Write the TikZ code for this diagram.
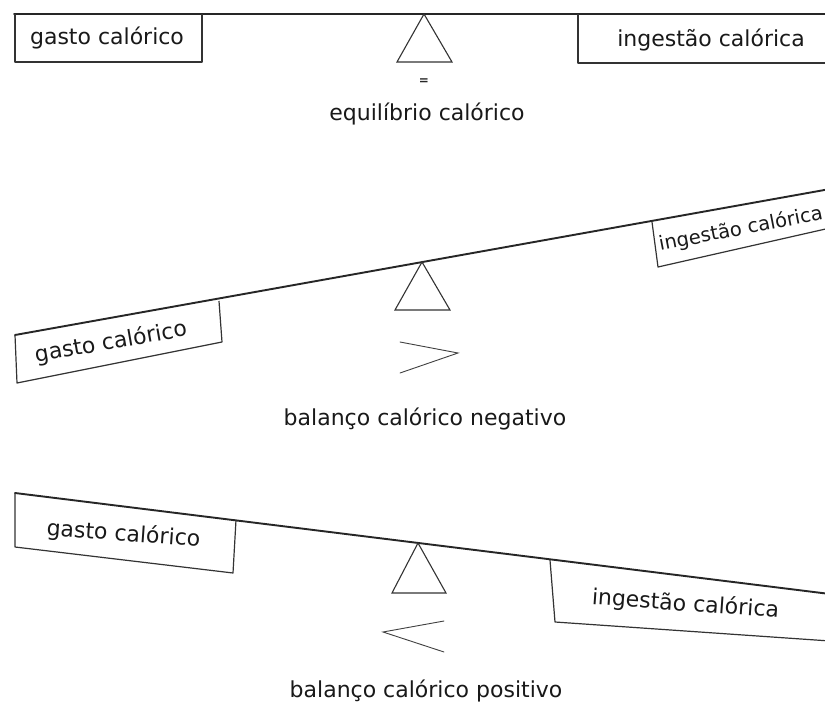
\documentclass[tikz,border=0pt]{standalone}
\usepackage{fontspec}
\setmainfont{DejaVu Sans}
\begin{document}
\begin{tikzpicture}[x=1pt,y=-1pt,
  beam/.style={line width=1.9pt, black!85, line cap=round},
  boxline/.style={line width=1.2pt, black!80, line join=round},
  fulcrum/.style={line width=1.1pt, black!80, line join=miter},
  sym/.style={line width=0.9pt, black!75, line cap=round},
  lbl/.style={font=\fontsize{22}{26}\selectfont, text=black!90, inner sep=0pt, anchor=base},
]
\fill[white] (0,0) rectangle (825,704);
\useasboundingbox (0,0) rectangle (825,704);
\clip (0,0) rectangle (825,704);

% ---------- panel 1: equilibrium ----------
\draw[beam] (14,14) -- (830,14);
\draw[boxline] (15,14) -- (15,62) -- (202,62) -- (202,14);
\node[lbl] (g1) at (107,45) {gasto calórico};
\draw[fulcrum] (424,14) -- (397,62) -- (452,62) -- cycle;
\node[font=\fontsize{12}{14}\selectfont\bfseries, text=black!85, inner sep=0pt] (eq) at (424,82) {=};
\node[lbl] (e1) at (427,120) {equilíbrio calórico};
\draw[boxline] (578,14) -- (578,63) -- (830,63);
\node[lbl] (i1) at (711,46) {ingestão calórica};

% ---------- panel 2: negative balance ----------
\draw[beam] (15,335) -- (830,189);
\draw[boxline] (15,335) -- (17,383) -- (222,342) -- (219,301);
\node[lbl, rotate=10] (g2) at (112,349) {gasto calórico};
\draw[fulcrum] (422,262) -- (395,310) -- (450,310) -- cycle;
\draw[sym] (400,342) -- (458,353) -- (400,373);
\node[lbl] (n2) at (425,425) {balanço calórico negativo};
\draw[boxline] (652,222) -- (658,267) -- (830,228);
\node[lbl, rotate=11, font=\fontsize{19.5}{23}\selectfont] (i2) at (742,235) {ingestão calórica};

% ---------- panel 3: positive balance ----------
\draw[beam] (15,493) -- (830,594);
\draw[boxline] (15,493) -- (15,547) -- (233,573) -- (236,520);
\node[lbl, rotate=-4] (g3) at (123,541) {gasto calórico};
\draw[fulcrum] (418,543) -- (392,593) -- (446,593) -- cycle;
\draw[sym] (444,621) -- (383,632) -- (444,652);
\node[lbl] (p3) at (426,697) {balanço calórico positivo};
\draw[boxline] (550,560) -- (555,622) -- (830,641);
\node[lbl, rotate=-4] (i3) at (685,611) {ingestão calórica};
\end{tikzpicture}
\end{document}
